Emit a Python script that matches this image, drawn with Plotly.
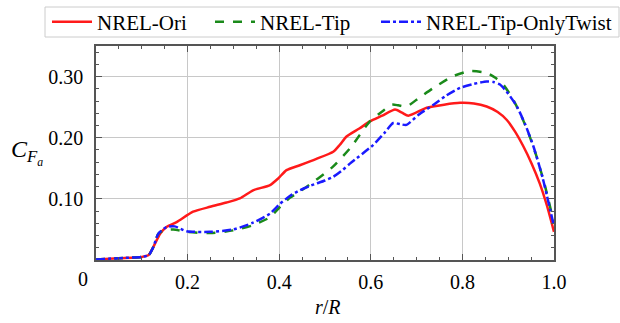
import plotly.graph_objects as go

# ---- data ----
r_ori = [0, 0.05, 0.10, 0.115, 0.125, 0.14, 0.154, 0.176, 0.212, 0.249, 0.285, 0.314, 0.343,
         0.38, 0.398, 0.416, 0.445, 0.48, 0.518, 0.532, 0.547, 0.575, 0.598, 0.625, 0.653,
         0.668, 0.682, 0.722, 0.76, 0.795, 0.825, 0.853, 0.877, 0.897, 0.915, 0.933, 0.951,
         0.969, 0.985, 1.0]
cf_ori = [0.001, 0.003, 0.005, 0.008, 0.021, 0.043, 0.054, 0.062, 0.079, 0.087, 0.094, 0.1007,
          0.114, 0.1225, 0.1335, 0.147, 0.155, 0.165, 0.177, 0.188, 0.202, 0.215, 0.2267, 0.236,
          0.246, 0.241, 0.236, 0.249, 0.254, 0.257, 0.256, 0.251, 0.242, 0.229, 0.21, 0.186,
          0.158, 0.125, 0.088, 0.046]

r_tip = [0, 0.05, 0.10, 0.115, 0.125, 0.136, 0.147, 0.169, 0.198, 0.249, 0.30, 0.343, 0.38,
         0.402, 0.424, 0.445, 0.47, 0.50, 0.518, 0.555, 0.598, 0.625, 0.646, 0.66, 0.678,
         0.705, 0.737, 0.78, 0.817, 0.853, 0.872, 0.889, 0.908, 0.926, 0.944, 0.962, 0.98, 1.0]
cf_tip = [0.001, 0.003, 0.005, 0.008, 0.021, 0.043, 0.048, 0.050, 0.046, 0.044, 0.0485, 0.057,
          0.070, 0.087, 0.102, 0.112, 0.125, 0.142, 0.153, 0.183, 0.2267, 0.243, 0.254, 0.253,
          0.251, 0.265, 0.2815, 0.3007, 0.309, 0.306, 0.298, 0.287, 0.266, 0.240, 0.208,
          0.169, 0.122, 0.06]

r_twist = [0, 0.05, 0.10, 0.115, 0.125, 0.136, 0.154, 0.172, 0.198, 0.249, 0.30, 0.343, 0.38,
           0.402, 0.424, 0.445, 0.47, 0.50, 0.518, 0.535, 0.555, 0.605, 0.63, 0.649, 0.665,
           0.678, 0.705, 0.737, 0.765, 0.795, 0.825, 0.853, 0.868, 0.882, 0.90, 0.919, 0.937,
           0.955, 0.975, 1.0]
cf_twist = [0.001, 0.003, 0.005, 0.008, 0.021, 0.043, 0.054, 0.055, 0.047, 0.046, 0.050, 0.061,
            0.076, 0.092, 0.105, 0.114, 0.122, 0.130, 0.136, 0.145, 0.158, 0.188, 0.208, 0.224,
            0.222, 0.221, 0.238, 0.254, 0.269, 0.2815, 0.288, 0.292, 0.291, 0.287, 0.272,
            0.251, 0.222, 0.186, 0.135, 0.055]

names = ["NREL-Ori", "NREL-Tip", "NREL-Tip-OnlyTwist"]
x_ticks = [0.2, 0.4, 0.6, 0.8, 1.0]
x_ticktext = ["0.2", "0.4", "0.6", "0.8", "1.0"]
y_ticks = [0.10, 0.20, 0.30]
y_ticktext = ["0.10", "0.20", "0.30"]

FONT = "Liberation Serif, Times New Roman, serif"

# plot-area geometry in pixels (for placing the outside texts)
L, R, T, B = 96, 554, 46, 260
W, H = R - L, B - T
def px(xp):
    return (xp - L) / W
def py(yp):
    return (B - yp) / H

fig = go.Figure()
fig.add_trace(go.Scatter(x=r_ori, y=cf_ori, mode="lines", name=names[0], legend="legend",
                         line=dict(color="#ff1a1a", width=2.5, shape="spline", smoothing=0.6)))
fig.add_trace(go.Scatter(x=r_tip, y=cf_tip, mode="lines", name=names[1], legend="legend",
                         line=dict(color="#1a8a1a", width=2.5, dash="dash", shape="spline", smoothing=0.6)))
fig.add_trace(go.Scatter(x=r_twist, y=cf_twist, mode="lines", name=names[2], legend="legend2",
                         line=dict(color="#1a1aff", width=2.5, dash="dashdot", shape="spline", smoothing=0.6)))

axis_common = dict(
    showline=True, linecolor="#555555", linewidth=1.5, mirror="allticks",
    ticks="inside", ticklen=6, tickcolor="#555555", tickwidth=1,
    showgrid=True, gridcolor="#c8c8c8", gridwidth=1,
    zeroline=False,
    tickfont=dict(family=FONT, size=20, color="black"),
)

fig.update_xaxes(range=[0, 1.0], tickvals=x_ticks, ticktext=x_ticktext,
                 minor=dict(dtick=0.05, ticks="inside", ticklen=3, tickcolor="#555555", showgrid=False),
                 ticklabelstandoff=3, **axis_common)
fig.update_yaxes(range=[0, 0.35], tickvals=y_ticks, ticktext=y_ticktext,
                 minor=dict(dtick=0.02, ticks="inside", ticklen=3, tickcolor="#555555", showgrid=False),
                 ticklabelstandoff=7, **axis_common)

fig.add_annotation(text="0", xref="paper", yref="paper", x=px(83), y=py(279),
                   xanchor="center", yanchor="middle",
                   showarrow=False, font=dict(family=FONT, size=20, color="black"))
fig.add_annotation(text="<i>r</i>/<i>R</i>", xref="paper", yref="paper",
                   x=px(328), y=py(307), xanchor="center", yanchor="middle",
                   showarrow=False, font=dict(family=FONT, size=20, color="black"))
fig.add_annotation(text="<i>C</i><sub><i>F<sub>a</sub></i></sub>", xref="paper", yref="paper",
                   x=px(9), y=py(152), xanchor="left", yanchor="middle",
                   showarrow=False, font=dict(family=FONT, size=24, color="black"))

# legend frame
fig.add_shape(type="rect", xref="paper", yref="paper",
              x0=px(45), x1=px(619), y0=py(37), y1=py(7),
              line=dict(color="#cccccc", width=1), fillcolor="white", layer="below")

leg_common = dict(orientation="h", xanchor="left", yanchor="middle", y=py(22),
                  borderwidth=0, bgcolor="rgba(0,0,0,0)", itemwidth=40,
                  font=dict(family=FONT, size=21, color="black"))
fig.update_layout(
    width=620, height=323,
    margin=dict(l=L, r=620 - R, t=T, b=323 - B, autoexpand=False),
    plot_bgcolor="white", paper_bgcolor="white",
    font=dict(family=FONT, size=20, color="black"),
    legend=dict(x=px(47), entrywidth=108, entrywidthmode="pixels", **leg_common),
    legend2=dict(x=px(376), **leg_common),
)

fig.write_html("out.html", config={"displayModeBar": False},
               post_script="document.body.style.margin='0';document.body.style.overflow='hidden';")
